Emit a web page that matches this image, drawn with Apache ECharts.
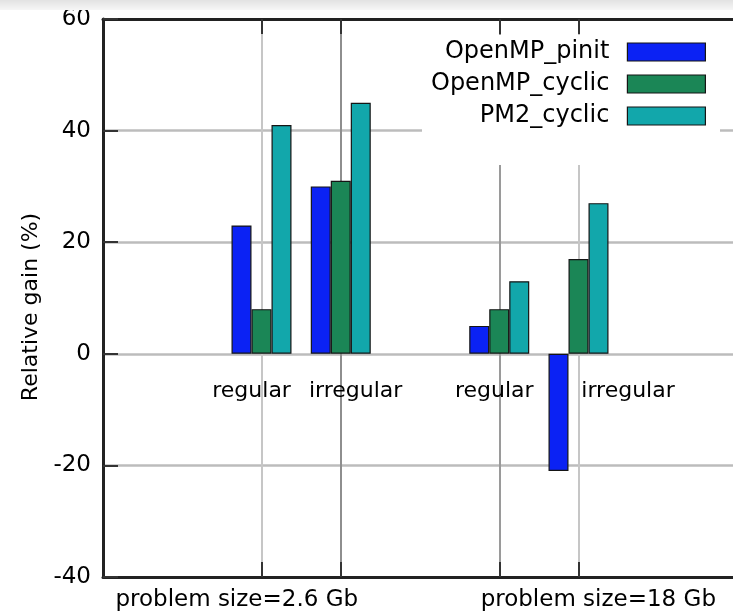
<!DOCTYPE html>
<html>
<head>
<meta charset="utf-8">
<script src="https://cdn.jsdelivr.net/npm/echarts@6/dist/echarts.min.js"></script>
<style>
html,body{margin:0;padding:0;background:#fff;}
#chart{width:733px;height:615px;}
</style>
</head>
<body>
<div id="chart"></div>
<script>
// ---- data ----
const seriesNames = ['OpenMP_pinit', 'OpenMP_cyclic', 'PM2_cyclic'];
const groups = ['regular', 'irregular', 'regular', 'irregular'];
const pinit = [23, 30, 5, -21];
const cyclic = [8, 31, 8, 17];
const pm2 = [41, 45, 13, 27];
const sizeTitles = ['problem size=2.6 Gb', 'problem size=18 Gb'];
const yMin = -40, yMax = 60, yStep = 20;

// ---- layout of category slots (x units 0..8) ----
const slotCount = 9;
const groupSlots = [2, 3, 5, 6];
const fine = 16; // label sub-slots per unit
const groupLabelFine = [30, 51, 79, 106];
const sizeTitleFine = [27, 100];

const barCats = Array.from({length: slotCount}, () => '');
groupSlots.forEach((s, i) => { barCats[s] = groups[i]; });
function toSlots(vals) {
  const arr = Array.from({length: slotCount}, () => '-');
  groupSlots.forEach((s, i) => { arr[s] = vals[i]; });
  return arr;
}
const fineCount = (slotCount - 1) * fine + 1;
const groupLabelCats = Array.from({length: fineCount}, () => '');
groupLabelFine.forEach((s, i) => { groupLabelCats[s] = groups[i]; });
const titleCats = Array.from({length: fineCount}, () => '');
sizeTitleFine.forEach((s, i) => { titleCats[s] = sizeTitles[i]; });

const FONT = 'DejaVu Sans';
const colors = ['#0b22f4', '#1b8656', '#12a7ab'];
const gridColor = '#bcbcbc';
const vGridColors = ['#c6c6c6', '#8e8e8e', '#9a9a9a', '#c6c6c6'];
const isBarSlot = (idx) => barCats[idx] !== '';

const gridTop = 19, gridHeight = 558;
// distance from bottom edge of the grid up to the y = 0 line
const zeroOffset = gridHeight * (0 - yMin) / (yMax - yMin);

const chart = echarts.init(document.getElementById('chart'), null, {renderer: 'canvas'});
const barStyle = (c) => ({color: c, borderColor: '#151515', borderWidth: 1.2});

chart.setOption({
  animation: false,
  backgroundColor: '#ffffff',
  textStyle: {fontFamily: FONT},
  graphic: [{
    type: 'rect', left: 0, top: 0, z: 100,
    shape: {width: 733, height: 10},
    style: {fill: new echarts.graphic.LinearGradient(0, 0, 0, 1, [
      {offset: 0, color: '#e2e2e2'}, {offset: 1, color: '#f6f6f6'}])}
  }],
  grid: {left: 103, top: gridTop, width: 634, height: gridHeight, containLabel: false, outerBoundsMode: 'none'},
  legend: {
    orient: 'vertical', align: 'right', right: 13, top: 35,
    padding: [5, 14, 37, 9], backgroundColor: '#ffffff',
    itemWidth: 78, itemHeight: 18, itemGap: 8,
    icon: 'rect', selectedMode: false,
    itemStyle: {borderColor: '#151515', borderWidth: 1.2},
    textStyle: {fontFamily: FONT, fontSize: 24, color: '#000', padding: [0, 13, 0, 0]},
    data: seriesNames
  },
  xAxis: [
    { // bar slots, bottom border + ticks + vertical grid
      type: 'category', data: barCats, boundaryGap: false, position: 'bottom',
      axisLine: {onZero: false, lineStyle: {color: '#222', width: 3}},
      axisTick: {show: true, inside: true, length: 15, interval: isBarSlot, lineStyle: {color: '#333', width: 2}},
      axisLabel: {show: false},
      splitLine: {show: true, interval: isBarSlot, lineStyle: {color: vGridColors, width: 2}}
    },
    { // group labels just under the zero line
      type: 'category', data: groupLabelCats, boundaryGap: false, position: 'bottom',
      offset: -zeroOffset,
      axisLine: {show: false, onZero: false},
      axisTick: {show: false},
      axisLabel: {show: true, interval: 0, margin: 26, fontFamily: FONT, fontSize: 22, color: '#000'},
      splitLine: {show: false}
    },
    { // problem size titles under the bottom axis
      type: 'category', data: titleCats, boundaryGap: false, position: 'bottom',
      axisLine: {show: false, onZero: false},
      axisTick: {show: false},
      axisLabel: {show: true, interval: 0, margin: 12, fontFamily: FONT, fontSize: 23, color: '#000'},
      splitLine: {show: false}
    },
    { // top border + mirror ticks
      type: 'category', data: barCats, boundaryGap: false, position: 'top',
      axisLine: {onZero: false, lineStyle: {color: '#222', width: 3}},
      axisTick: {show: true, inside: true, length: 15, interval: isBarSlot, lineStyle: {color: '#333', width: 2}},
      axisLabel: {show: false},
      splitLine: {show: false}
    }
  ],
  yAxis: {
    type: 'value', min: yMin, max: yMax, interval: yStep,
    name: 'Relative gain (%)', nameLocation: 'middle', nameGap: 61, nameRotate: 90,
    nameTextStyle: {fontFamily: FONT, fontSize: 22, color: '#000', padding: [0, 18, 0, 0]},
    axisLine: {show: true, onZero: false, lineStyle: {color: '#222', width: 3}},
    axisTick: {show: true, inside: true, length: 15, lineStyle: {color: '#333', width: 2}},
    axisLabel: {fontFamily: FONT, fontSize: 23, color: '#000', margin: 12},
    splitLine: {show: true, lineStyle: {color: gridColor, width: 2.5}}
  },
  series: [
    {name: seriesNames[0], type: 'bar', xAxisIndex: 0, data: toSlots(pinit), barWidth: 20, barGap: '0%', itemStyle: barStyle(colors[0])},
    {name: seriesNames[1], type: 'bar', xAxisIndex: 0, data: toSlots(cyclic), barWidth: 20, barGap: '0%', itemStyle: barStyle(colors[1])},
    {name: seriesNames[2], type: 'bar', xAxisIndex: 0, data: toSlots(pm2), barWidth: 20, barGap: '0%', itemStyle: barStyle(colors[2])}
  ]
});
</script>
</body>
</html>
